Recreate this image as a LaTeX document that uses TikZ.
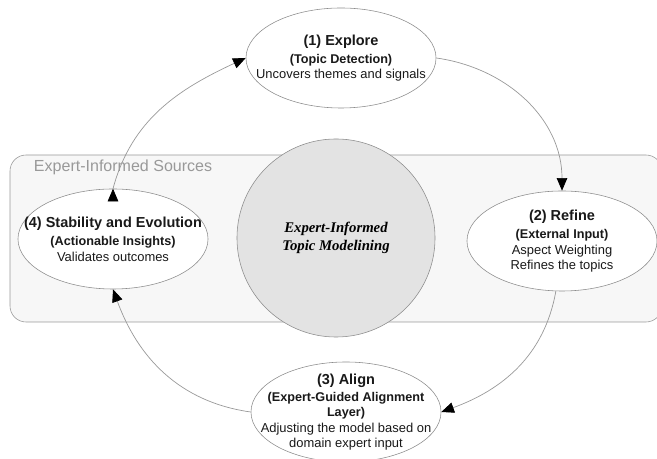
\documentclass[tikz,border=0pt]{standalone}
\usepackage{fontspec}
\setmainfont{Liberation Sans}
\newfontfamily\serif{Liberation Serif}
\usepackage{tikz}
\usetikzlibrary{arrows.meta,shapes.geometric}
\newcommand{\ttl}{\fontsize{10.3}{13}\selectfont\bfseries}
\newcommand{\sub}{\fontsize{9}{11}\selectfont\bfseries}

\begin{document}
\begin{tikzpicture}[x=0.025cm,y=0.025cm,
	stage/.style={ellipse,draw=black!45,fill=white,minimum width=4.75cm,minimum height=2.5cm,inner sep=0pt},
	txt/.style={align=center,font=\fontsize{9.2}{11}\selectfont,text=black!90}]
	\useasboundingbox (0,0) rectangle (657,459);
	%
	\draw[draw=black!40,fill=black!3,rounded corners=0.4cm] (10,137) rectangle (662,304);
	\node[anchor=west,text=black!40,font=\fontsize{11.4}{13}\selectfont] (src) at (29,292) {Expert-Informed Sources};
	\node[circle,draw=black!45,fill=black!11,minimum size=4.95cm,inner sep=0pt,align=center,
		font=\serif\bfseries\itshape\fontsize{10.5}{12.5}\selectfont] (C) at (336,221)
		{Expert-Informed\\Topic Modelining};
	%
	\node[stage,label={[txt]center:{\ttl (1) Explore\\[2pt] \sub (Topic Detection)\\ Uncovers themes and signals}}] (E) at (341,401) {};
	\node[stage,label={[txt]center:{\ttl (2) Refine\\[2pt] \sub (External Input)\\ Aspect Weighting\\ Refines the topics}}] (R) at (562,218) {};
	\node[stage,label={[txt]center:{\ttl (3) Align\\[1pt] \sub (Expert-Guided Alignment\\ \sub Layer)\\ Adjusting the model based on\\ domain expert input}}] (A) at (346,47) {};
	\node[stage,label={[txt]center:{\ttl (4) Stability and Evolution\\[2pt] \sub (Actionable Insights)\\ Validates outcomes}}] (S) at (113,220) {};
	%
	\path[-{Triangle[length=9pt,width=7.5pt,black]},draw=black!40,line width=0.5pt]
	(E.east) edge[out=-8,in=90] (R.north)
	(R.263) edge[out=-100,in=20] (A.east)
	(A.west) edge[out=172,in=-70] (S.south)
	(S.north) edge[out=75,in=-155] (E.west);
\end{tikzpicture}
\end{document}
